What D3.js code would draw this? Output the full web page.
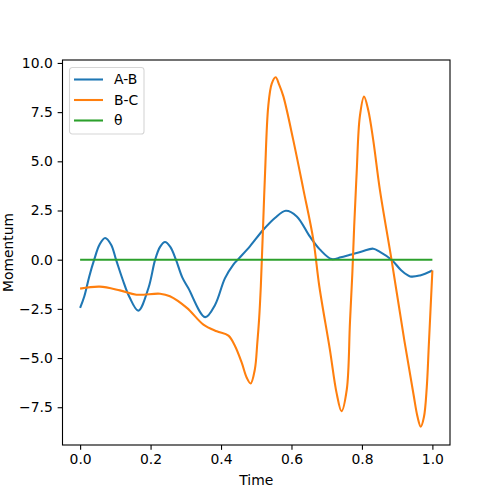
<!DOCTYPE html>
<html>
<head>
<meta charset="utf-8">
<script src="https://cdn.jsdelivr.net/npm/d3@7"></script>
<style>
  body { margin: 0; background: #fff; }
  text { font-family: 'DejaVu Sans', sans-serif; }
</style>
</head>
<body>
<script>
// values
const abTime = [0, 0.012, 0.026, 0.04, 0.055, 0.071, 0.088, 0.102, 0.121, 0.14, 0.165, 0.194, 0.213, 0.227, 0.241, 0.256, 0.272, 0.29, 0.307, 0.355, 0.383, 0.411, 0.435, 0.449, 0.482, 0.52, 0.553, 0.584, 0.615, 0.652, 0.681, 0.714, 0.74, 0.766, 0.8, 0.832, 0.851, 0.884, 0.912, 0.937, 0.965, 1.0]
const abValues = [-2.45, -1.86, -0.85, 0, 0.76, 1.1, 0.76, 0, -1.02, -1.9, -2.59, -1.44, 0, 0.65, 0.9, 0.65, 0, -0.9, -1.44, -2.92, -2.3, -0.95, -0.25, 0.03, 0.68, 1.52, 2.12, 2.49, 2.2, 1.18, 0.51, 0.03, 0.12, 0.25, 0.42, 0.56, 0.4, 0, -0.55, -0.85, -0.8, -0.55]

const bcTime = [0, 0.056, 0.113, 0.16, 0.227, 0.255, 0.303, 0.35, 0.388, 0.421, 0.44, 0.459, 0.473, 0.484, 0.496, 0.503, 0.508, 0.513, 0.518, 0.525, 0.534, 0.544, 0.555, 0.565, 0.577, 0.605, 0.634, 0.662, 0.679, 0.709, 0.728, 0.742, 0.757, 0.766, 0.773, 0.778, 0.785, 0.794, 0.806, 0.818, 0.832, 0.851, 0.884, 0.92, 0.946, 0.958, 0.967, 0.976, 0.984, 0.99, 1.0]
const bcValues = [-1.47, -1.37, -1.56, -1.78, -1.73, -1.86, -2.45, -3.3, -3.64, -3.86, -4.4, -5.25, -6.0, -6.29, -5.58, -4.23, -3.05, -1.35, 1.02, 4.4, 7.78, 8.95, 9.27, 8.9, 8.3, 6.09, 3.55, 1.02, -1.35, -4.57, -6.77, -7.7, -6.6, -3.2, -0.6, 1.7, 4.4, 7.27, 8.29, 7.6, 6.09, 3.55, 0, -4.06, -6.8, -8.0, -8.49, -8.0, -6.5, -4.3, -0.55]

const thetaTime = [0, 0.25, 0.5, 0.75, 1.0]
const thetaValues = [0, 0, 0, 0, 0]

const seriesNames = ['A-B', 'B-C', 'θ']
const seriesColors = ['#1f77b4', '#ff7f0e', '#2ca02c']
const xTicks = [0, 0.2, 0.4, 0.6, 0.8, 1.0]
const yTicks = [-7.5, -5.0, -2.5, 0, 2.5, 5.0, 7.5, 10.0]

;(function () {
  const width = 500
  const height = 500
  const margin = { top: 60, right: 50, bottom: 55, left: 62.5 }

  const svg = d3.select('body').append('svg')
    .attr('width', width)
    .attr('height', height)

  const x = d3.scaleLinear()
    .domain([-0.05, 1.05])
    .range([margin.left, width - margin.right])

  const y = d3.scaleLinear()
    .domain([-9.42, 10.15])
    .range([height - margin.bottom, margin.top])

  const series = [
    { name: seriesNames[0], color: seriesColors[0], points: abTime.map((t, i) => [t, abValues[i]]) },
    { name: seriesNames[1], color: seriesColors[1], points: bcTime.map((t, i) => [t, bcValues[i]]) },
    { name: seriesNames[2], color: seriesColors[2], points: thetaTime.map((t, i) => [t, thetaValues[i]]) }
  ]

  const line = d3.line()
    .x(d => x(d[0]))
    .y(d => y(d[1]))
    .curve(d3.curveCatmullRom.alpha(0.5))

  svg.selectAll('path.series')
    .data(series)
    .enter()
    .append('path')
    .attr('class', 'series')
    .attr('fill', 'none')
    .attr('stroke', d => d.color)
    .attr('stroke-width', 2.08)
    .attr('stroke-linejoin', 'round')
    .attr('d', d => line(d.points))

  const tickFormat = d3.format('.1f')

  const xAxis = svg.append('g')
    .attr('transform', `translate(0,${height - margin.bottom})`)
    .call(d3.axisBottom(x).tickValues(xTicks).tickFormat(tickFormat).tickSize(4.86).tickPadding(4.5).tickSizeOuter(0))

  const yAxis = svg.append('g')
    .attr('transform', `translate(${margin.left},0)`)
    .call(d3.axisLeft(y).tickValues(yTicks).tickFormat(tickFormat).tickSize(4.86).tickPadding(4.86).tickSizeOuter(0))

  ;[xAxis, yAxis].forEach(g => {
    g.select('.domain').remove()
    g.selectAll('.tick line').attr('stroke', '#000').attr('stroke-width', 1.1)
    g.selectAll('.tick text')
      .attr('fill', '#000')
      .style('font-size', '13.9px')
      .style('font-family', "'DejaVu Sans', sans-serif")
  })

  // frame
  svg.append('rect')
    .attr('x', margin.left)
    .attr('y', margin.top)
    .attr('width', width - margin.left - margin.right)
    .attr('height', height - margin.top - margin.bottom)
    .attr('fill', 'none')
    .attr('stroke', '#000')
    .attr('stroke-width', 1.1)

  svg.append('text')
    .attr('x', (margin.left + width - margin.right) / 2)
    .attr('y', 485)
    .attr('text-anchor', 'middle')
    .style('font-size', '13.9px')
    .text('Time')

  svg.append('text')
    .attr('transform', `translate(12.5,${(margin.top + height - margin.bottom) / 2}) rotate(-90)`)
    .attr('text-anchor', 'middle')
    .style('font-size', '13.9px')
    .text('Momentum')

  // legend
  const legend = svg.append('g')
    .attr('transform', 'translate(69.5,67.5)')

  legend.append('rect')
    .attr('width', 74.5)
    .attr('height', 66.5)
    .attr('rx', 2.8)
    .attr('fill', '#fff')
    .attr('fill-opacity', 0.8)
    .attr('stroke', '#d6d6d6')
    .attr('stroke-width', 1.1)

  const rows = legend.selectAll('g.row')
    .data(series)
    .enter()
    .append('g')
    .attr('class', 'row')
    .attr('transform', (d, i) => `translate(0,${12 + i * 20.5})`)

  rows.append('line')
    .attr('x1', 4.5)
    .attr('x2', 33.5)
    .attr('stroke', d => d.color)
    .attr('stroke-width', 2.08)

  rows.append('text')
    .attr('x', 44.5)
    .attr('dy', '0.35em')
    .style('font-size', '13.9px')
    .text(d => d.name)
})()
</script>
</body>
</html>
